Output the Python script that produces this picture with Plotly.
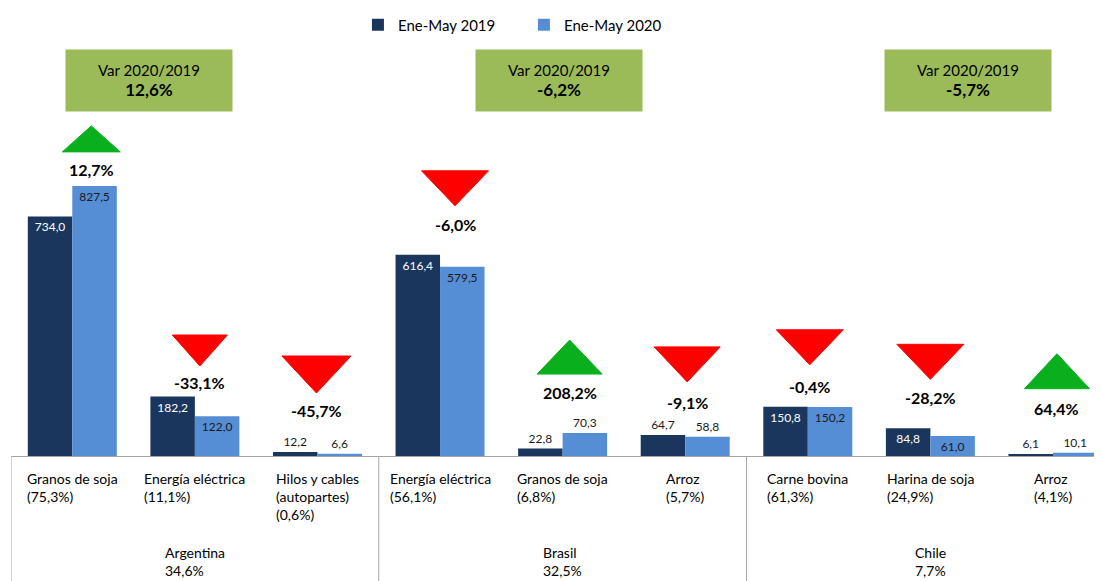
import plotly.graph_objects as go

# ---------------- data ----------------
categories = ["Granos de soja", "Energía eléctrica", "Hilos y cables<br>(autopartes)",
              "Energía eléctrica", "Granos de soja", "Arroz",
              "Carne bovina", "Harina de soja", "Arroz"]
shares = [75.3, 11.1, 0.6, 56.1, 6.8, 5.7, 61.3, 24.9, 4.1]
values_2019 = [734.0, 182.2, 12.2, 616.4, 22.8, 64.7, 150.8, 84.8, 6.1]
values_2020 = [827.5, 122.0, 6.6, 579.5, 70.3, 58.8, 150.2, 61.0, 10.1]
var_pct = [12.7, -33.1, -45.7, -6.0, 208.2, -9.1, -0.4, -28.2, 64.4]
groups = ["Argentina", "Brasil", "Chile"]
group_share = [34.6, 32.5, 7.7]
group_var = [12.6, -6.2, -5.7]
series_names = ["Ene-May 2019", "Ene-May 2020"]

# ---------------- layout / style lists ----------------
pos_2019 = ["inside", "inside", "outside", "inside", "outside", "outside", "inside", "inside", "outside"]
pos_2020 = ["inside", "inside", "outside", "inside", "outside", "outside", "inside", "inside", "outside"]
label_offset_px = [16, 14.5, 42, 30, 41, 32, 20, 31, 44]
label_xshift_px = [19, 5, -1, 15, 7, 2, 2, 0, 4]
tri_gap_px = [18, 16, 17, 19, 18, 21, 22, 18, 20]
tri_w_px = [58, 55, 69, 67, 65, 66, 67, 67, 65]
tri_h_px = [26, 31, 37, 35, 34, 35, 35, 35, 35]
box_x = [0.626, 3.968, 7.31]

FONT = "Lato, 'Open Sans', sans-serif"
DARK = "#1B365D"
LIGHT = "#558ED5"
GREEN = "#0AAF1E"
RED = "#FF0000"
GRID = "#A6A6A6"

W, H = 1094, 573          # page body has an 8px margin
PLOT_H = 448
B = H - PLOT_H


def fmt(v, d=1):
    return f"{v:.{d}f}".replace(".", ",")


idx = list(range(len(categories)))

fig = go.Figure()
fig.add_trace(go.Bar(
    x=idx, y=values_2019, name=series_names[0], marker=dict(color=DARK, line=dict(width=0)),
    text=[fmt(v) for v in values_2019], textposition=pos_2019, insidetextanchor="end",
    insidetextfont=dict(color="white", size=12, family=FONT),
    outsidetextfont=dict(color="#1a1a1a", size=12, family=FONT),
    constraintext="none", cliponaxis=False, textangle=0,
))
fig.add_trace(go.Bar(
    x=idx, y=values_2020, name=series_names[1], marker=dict(color=LIGHT, line=dict(width=0)),
    text=[fmt(v) for v in values_2020], textposition=pos_2020, insidetextanchor="end",
    insidetextfont=dict(color="#1a1a1a", size=12, family=FONT),
    outsidetextfont=dict(color="#1a1a1a", size=12, family=FONT),
    constraintext="none", cliponaxis=False, textangle=0,
))

annotations = []
shapes = []

for i in idx:
    top = max(values_2019[i], values_2020[i])
    off = label_offset_px[i]
    xs = label_xshift_px[i]
    annotations.append(dict(
        x=i, y=top, xref="x", yref="y", yshift=off, xshift=xs,
        text=f"<b>{fmt(var_pct[i])}%</b>", showarrow=False,
        font=dict(size=16, color="black", family=FONT), yanchor="middle", xanchor="center",
    ))
    w = tri_w_px[i] / 2
    base = off + tri_gap_px[i]
    h = tri_h_px[i]
    if var_pct[i] >= 0:
        path = f"M{xs - w},{base} L{xs + w},{base} L{xs},{base + h} Z"
        col = GREEN
    else:
        path = f"M{xs - w},{base + h} L{xs + w},{base + h} L{xs},{base} Z"
        col = RED
    shapes.append(dict(
        type="path", xref="x", yref="y", xsizemode="pixel", ysizemode="pixel",
        xanchor=i, yanchor=top, path=path, fillcolor=col, line=dict(color=col, width=1),
    ))
    annotations.append(dict(
        x=i, y=0, xref="x", yref="paper", yshift=-12, yanchor="top", xanchor="center",
        align="left", showarrow=False,
        text=f"{categories[i]}<br>({fmt(shares[i])}%)",
        font=dict(size=14, color="black", family=FONT),
    ))

for g in range(3):
    annotations.append(dict(
        x=g * 3 + 1, y=0, xref="x", yref="paper", yshift=-86, yanchor="top", xanchor="center",
        align="left", showarrow=False,
        text=f"{groups[g]}<br>{fmt(group_share[g])}%",
        font=dict(size=14, color="black", family=FONT),
    ))
    annotations.append(dict(
        x=box_x[g], y=0.838, xref="x", yref="paper", xanchor="center", yanchor="middle",
        showarrow=False, width=166, height=61, bgcolor="#9BBB59", borderpad=0,
        text=f"Var 2020/2019<br><b><span style='font-size:17px'>{fmt(group_var[g])}%</span></b>",
        font=dict(size=15, color="black", family=FONT),
    ))

for xb in [-0.5, 2.5, 5.5]:
    shapes.append(dict(type="line", xref="x", yref="paper", x0=xb, x1=xb, y0=0, y1=-B / PLOT_H,
                       line=dict(color=GRID, width=1)))

fig.update_layout(
    width=W, height=H,
    margin=dict(l=3, r=0, t=0, b=B),
    paper_bgcolor="white", plot_bgcolor="white",
    barmode="group", bargap=0.274, bargroupgap=0,
    font=dict(family=FONT, color="black"),
    xaxis=dict(range=[-0.5, 8.4], showticklabels=False, showgrid=False, zeroline=False,
               showline=True, linecolor=GRID, linewidth=1, ticks=""),
    yaxis=dict(range=[0, 1372.5], visible=False),
    legend=dict(orientation="h", x=0.318, xanchor="left", y=0.962, yanchor="middle",
                font=dict(size=15, color="black", family=FONT), entrywidth=121,
                bgcolor="rgba(0,0,0,0)"),
    annotations=annotations, shapes=shapes,
)

fig.write_html("out.html")
